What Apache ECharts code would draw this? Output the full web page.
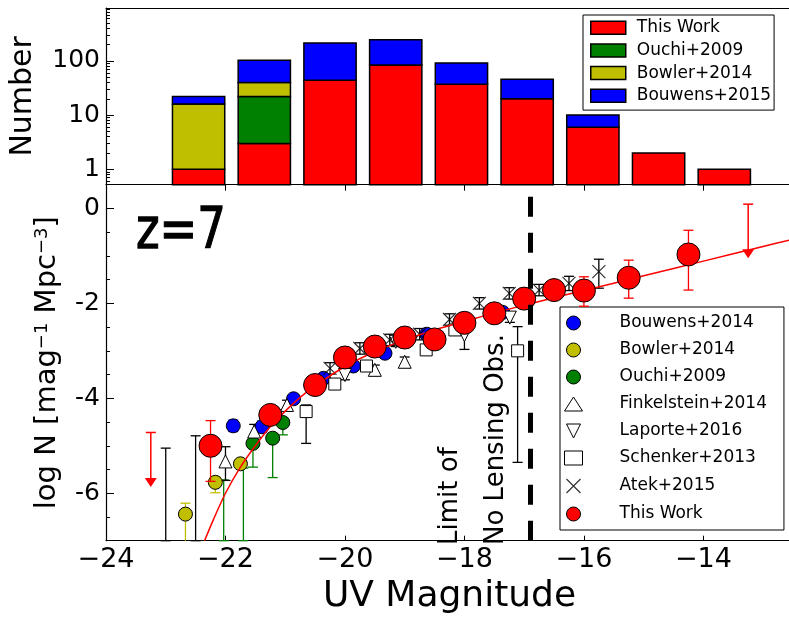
<!DOCTYPE html>
<html><head><meta charset="utf-8">
<script src="https://cdn.jsdelivr.net/npm/echarts@6/dist/echarts.min.js"></script>
<style>html,body{margin:0;padding:0;background:#fff}#c{width:789px;height:618px}</style>
</head><body><div id="c"></div>
<script>
// ---------------- axes ----------------
const xMin = -24, xMax = -12.5;
const xTicks = [-24, -22, -20, -18, -16, -14];
const topYMin = -0.284, topYMax = 2.976;          // log10(Number)
const topYTicks = [0, 1, 2];                        // 1, 10, 100
const botYMin = -7, botYMax = 0.5;
const botYTicks = [0, -2, -4, -6];
const lensingLimit = -16.9;

// ---------------- histogram (counts per bin) ----------------
const histBins     = [-22.45, -21.35, -20.25, -19.15, -18.05, -16.95, -15.85, -14.75, -13.65];
const histThisWork = [1, 3, 44, 84, 37, 20, 6, 2, 1];
const histOuchi    = [0, 19, 0, 0, 0, 0, 0, 0, 0];
const histBowler   = [15, 18, 0, 0, 0, 0, 0, 0, 0];
const histBouwens  = [6, 63, 171, 161, 54, 26, 4, 0, 0];

// ---------------- luminosity function points [M, logN, errDown, errUp] ----------------
const bouwens14 = [[-21.87,-4.58,0.12,0.12],[-21.39,-4.60,0.12,0.12],[-20.86,-4.01,0.08,0.08],[-20.36,-3.58,0.08,0.08],
                   [-19.86,-3.32,0.07,0.07],[-19.33,-3.05,0.07,0.07],[-18.63,-2.65,0.08,0.08],[-17.36,-2.19,0.1,0.1]];
const bowler14  = [[-22.67,-6.44,2.0,0.23],[-22.17,-5.77,0.22,0.12],[-21.75,-5.38,0.07,0.07]];
const ouchi09   = [[-21.54,-4.95,0.50,0.07],[-21.21,-4.84,0.83,0.10],[-21.04,-4.51,0.26,0.10]];
const ouchi09Lim = [[-22.03,-5.72],[-21.70,-5.47]];          // only upper end visible
const finkelstein14 = [[-22.0,-5.33,0.40,0.31],[-21.52,-4.70,0.20,0.15],[-20.97,-4.14,0.12,0.10],
                       [-19.5,-3.40,0.12,0.10],[-19.0,-3.23,0.12,0.10]];
const finkelsteinLim = [[-23.0,-5.05],[-22.5,-4.79]];
const laporte16 = [[-20.0,-3.51,0.10,0.10],[-19.15,-2.81,0.10,0.10],[-18.0,-2.67,0.30,0.10],[-17.24,-2.30,0.10,0.10]];
const schenker13 = [[-20.65,-4.28,0.67,0.14],[-20.17,-3.70,0.10,0.10],[-19.64,-3.32,0.10,0.10],
                    [-18.64,-2.98,0.10,0.10],[-18.16,-2.56,0.10,0.10],[-17.11,-3.00,2.35,0.51]];
const atek15 = [[-20.25,-3.37,0.12,0.12],[-19.75,-2.95,0.12,0.12],[-19.25,-2.77,0.12,0.12],[-18.75,-2.65,0.12,0.12],
                [-18.25,-2.34,0.12,0.12],[-17.75,-2.00,0.12,0.12],[-17.25,-1.79,0.12,0.12],[-16.75,-1.72,0.12,0.12],
                [-16.25,-1.58,0.15,0.15],[-15.75,-1.33,0.35,0.26]];
const thisWork = [[-22.25,-5.00,0.75,0.53],[-21.25,-4.35,0.15,0.15],[-20.5,-3.72,0.12,0.12],[-20.0,-3.14,0.1,0.1],
                  [-19.5,-2.91,0.1,0.1],[-19.0,-2.72,0.1,0.1],[-18.5,-2.76,0.1,0.1],[-18.0,-2.41,0.1,0.1],
                  [-17.5,-2.21,0.1,0.1],[-17.0,-1.90,0.1,0.1],[-16.5,-1.72,0.1,0.1],[-16.0,-1.73,0.33,0.29],
                  [-15.25,-1.46,0.43,0.37],[-14.25,-0.97,0.75,0.51]];
const thisWorkLim = [[-23.25,-4.72,-5.87],[-13.25,0.09,-1.05]];   // [M, top, arrow tip]
const fitLine = [[-22.35,-7.0],[-22.2,-6.55],[-22.0,-6.0],[-21.75,-5.45],[-21.5,-5.0],[-21.25,-4.6],[-21.0,-4.27],
                 [-20.75,-3.98],[-20.5,-3.74],[-20.0,-3.33],[-19.5,-3.02],[-19.0,-2.77],[-18.5,-2.56],[-18.0,-2.38],
                 [-17.5,-2.2],[-17.0,-2.04],[-16.5,-1.88],[-16.0,-1.73],[-15.0,-1.42],[-14.0,-1.11],[-13.0,-0.80],[-12.5,-0.65]];

// ---------------- colours ----------------
const RED = '#ff0000', GREEN = '#008000', OLIVE = '#bfbf00', BLUE = '#0000ff';
const FONT = 'DejaVu Sans';

// ---------------- helpers ----------------
const histStacks = [histThisWork, histOuchi, histBowler, histBouwens];
const histCum = histBins.map((_, i) => { let s = 0; return histStacks.map(a => (s += a[i])); });
function segData(k) {
  const out = [];
  histBins.forEach((x, i) => {
    if (histStacks[k][i] === 0) return;
    const below = k === 0 ? 0 : histCum[i][k - 1];
    out.push([x, below > 0 ? Math.log10(below) : topYMin, Math.log10(histCum[i][k])]);
  });
  return out;
}
const histWidth = 0.875;
function histSeries(name, k, color) {
  return {
    type: 'custom', name, xAxisIndex: 0, yAxisIndex: 0, data: segData(k), encode: {x: 0, y: [1, 2]},
    renderItem: (p, api) => {
      const x = api.value(0), lo = api.value(1), hi = api.value(2);
      const a = api.coord([x - histWidth / 2, hi]), b = api.coord([x + histWidth / 2, lo]);
      return {type: 'rect', shape: {x: a[0], y: a[1], width: b[0] - a[0], height: b[1] - a[1]},
              style: {fill: color, stroke: '#000', lineWidth: 1.5}};
    }
  };
}
const CAP = 5;
function errSeries(data, color, z) {
  return {
    type: 'custom', xAxisIndex: 2, yAxisIndex: 2, data, z, encode: {x: 0, y: 1}, silent: true,
    renderItem: (p, api) => {
      const x = api.value(0), y = api.value(1), lo = api.value(2), hi = api.value(3);
      const yl = Math.max(y - lo, botYMin), clamped = y - lo < botYMin;
      const a = api.coord([x, yl]), b = api.coord([x, y + hi]);
      const st = {stroke: color, lineWidth: 1.3};
      const ch = [{type: 'line', shape: {x1: a[0], y1: a[1], x2: b[0], y2: b[1]}, style: st},
                  {type: 'line', shape: {x1: b[0] - CAP, y1: b[1], x2: b[0] + CAP, y2: b[1]}, style: st}];
      if (!clamped) ch.push({type: 'line', shape: {x1: a[0] - CAP, y1: a[1], x2: a[0] + CAP, y2: a[1]}, style: st});
      return {type: 'group', children: ch};
    }
  };
}
function limSeries(data, color, z) {   // error bar rising from the bottom of the axis
  return errSeries(data.map(d => [d[0], botYMin, 0, d[1] - botYMin]), color, z);
}
function arrowSeries(data, color, z) {
  return {
    type: 'custom', xAxisIndex: 2, yAxisIndex: 2, data, z, encode: {x: 0, y: 1}, silent: true,
    renderItem: (p, api) => {
      const x = api.value(0), top = api.value(1), tip = api.value(2);
      const a = api.coord([x, top]), b = api.coord([x, tip]);
      const st = {stroke: color, lineWidth: 1.5};
      return {type: 'group', children: [
        {type: 'line', shape: {x1: a[0], y1: a[1], x2: b[0], y2: b[1] - 4}, style: st},
        {type: 'line', shape: {x1: a[0] - CAP, y1: a[1], x2: a[0] + CAP, y2: a[1]}, style: st},
        {type: 'polygon', shape: {points: [[b[0] - 6, b[1] - 9], [b[0] + 6, b[1] - 9], [b[0], b[1]]]}, style: {fill: color}}
      ]};
    }
  };
}
function scat(name, data, symbol, size, fill, z, extra) {
  return Object.assign({
    type: 'scatter', name, xAxisIndex: 2, yAxisIndex: 2, data: data.map(d => [d[0], d[1]]), z,
    symbol, symbolSize: size, itemStyle: {color: fill, borderColor: '#000', borderWidth: 1, opacity: 1},
    emphasis: {disabled: true}
  }, extra || {});
}
const TRI_DOWN = 'path://M0,0L10,0L5,10Z';
const XMARK = 'path://M0,0L10,10M10,0L0,10';

const minorTop = [];
[-1, 0, 1, 2].forEach(d => { for (let k = 2; k <= 9; k++) { const v = d + Math.log10(k); if (v > topYMin && v < topYMax) minorTop.push(v); } });
const minorBot = [];
for (let v = botYMin; v <= botYMax; v += 0.5) if (!botYTicks.includes(v)) minorBot.push(v);

const axisLine = {show: true, onZero: false, lineStyle: {color: '#000', width: 1.2}};
const chart = echarts.init(document.getElementById('c'));
chart.setOption({
  animation: false,
  backgroundColor: '#fff',
  textStyle: {fontFamily: FONT},
  grid: [
    {left: 106, top: 8, right: -4, height: 176.7, outerBoundsMode: 'none', containLabel: false},
    {left: 106, top: 184.7, right: -4, bottom: 77.3, outerBoundsMode: 'none', containLabel: false}
  ],
  xAxis: [
    {gridIndex: 0, type: 'value', min: xMin, max: xMax, position: 'bottom', axisLine,
     axisTick: {inside: false, length: 6, customValues: xTicks, lineStyle: {color: '#000'}},
     axisLabel: {show: false}, splitLine: {show: false}},
    {gridIndex: 0, type: 'value', min: xMin, max: xMax, position: 'top', axisLine,
     axisTick: {show: false}, axisLabel: {show: false}, splitLine: {show: false}},
    {gridIndex: 1, type: 'value', min: xMin, max: xMax, position: 'bottom', axisLine,
     name: 'UV Magnitude', nameLocation: 'middle', nameGap: 34,
     nameTextStyle: {fontSize: 36, color: '#000', fontFamily: FONT},
     axisTick: {inside: true, length: 5, customValues: xTicks, lineStyle: {color: '#000'}},
     axisLabel: {customValues: xTicks, fontSize: 27, color: '#000', margin: 6, fontFamily: FONT,
                 formatter: v => String(v).replace('-', '\u2212')},
     splitLine: {show: false}}
  ],
  yAxis: [
    {gridIndex: 0, type: 'value', min: topYMin, max: topYMax, position: 'left', axisLine,
     name: 'Number', nameLocation: 'middle', nameGap: 68,
     nameTextStyle: {fontSize: 30, color: '#000', fontFamily: FONT},
     axisTick: {inside: true, length: 8, customValues: topYTicks, lineStyle: {color: '#000'}},
     axisLabel: {customValues: topYTicks, fontSize: 25, color: '#000', margin: 6, fontFamily: FONT,
                 formatter: v => String(Math.round(Math.pow(10, v)))},
     splitLine: {show: false}},
    {gridIndex: 0, type: 'value', min: topYMin, max: topYMax, position: 'left', axisLine: {show: false},
     axisTick: {inside: true, length: 4, customValues: minorTop, lineStyle: {color: '#000'}},
     axisLabel: {show: false}, splitLine: {show: false}},
    {gridIndex: 1, type: 'value', min: botYMin, max: botYMax, position: 'left', axisLine,
     name: 'log N [mag{s|\u22121} Mpc{s|\u22123}]', nameLocation: 'middle', nameGap: 44,
     nameTextStyle: {fontSize: 29, color: '#000', fontFamily: FONT,
                     rich: {s: {fontSize: 18, color: '#000', fontFamily: FONT, verticalAlign: 'top', padding: [0, 0, 10, 0]}}},
     axisTick: {inside: true, length: 8, customValues: botYTicks, lineStyle: {color: '#000'}},
     axisLabel: {customValues: botYTicks, fontSize: 25, color: '#000', margin: 6, fontFamily: FONT,
                 formatter: v => String(v)},
     splitLine: {show: false}},
    {gridIndex: 1, type: 'value', min: botYMin, max: botYMax, position: 'left', axisLine: {show: false},
     axisTick: {inside: true, length: 4, customValues: minorBot, lineStyle: {color: '#000'}},
     axisLabel: {show: false}, splitLine: {show: false}}
  ],
  legend: [
    {orient: 'vertical', left: 583, top: 15, selectedMode: false,
     padding: [4.2, 3, 5.8, 7], itemWidth: 35, itemHeight: 13, itemGap: 5.7,
     backgroundColor: '#fff', borderColor: '#000', borderWidth: 1, borderRadius: 0,
     textStyle: {fontSize: 17, color: '#000', fontFamily: FONT, padding: [0, 0, 0, 6]},
     data: [
       {name: 'This Work', icon: 'rect', itemStyle: {color: RED, borderColor: '#000', borderWidth: 1.5}},
       {name: 'Ouchi+2009', icon: 'rect', itemStyle: {color: GREEN, borderColor: '#000', borderWidth: 1.5}},
       {name: 'Bowler+2014', icon: 'rect', itemStyle: {color: OLIVE, borderColor: '#000', borderWidth: 1.5}},
       {name: 'Bouwens+2015', icon: 'rect', itemStyle: {color: BLUE, borderColor: '#000', borderWidth: 1.5}}
     ]},
    {orient: 'vertical', left: 560, top: 307, selectedMode: false,
     padding: [7.5, 17, 7.5, 4], itemWidth: 18, itemHeight: 14, itemGap: 10,
     backgroundColor: '#fff', borderColor: '#000', borderWidth: 1, borderRadius: 0,
     textStyle: {fontSize: 17, color: '#000', fontFamily: FONT, padding: [0, 0, 0, 32]},
     data: [
       {name: 'Bouwens+2014', icon: 'circle', itemStyle: {color: BLUE, borderColor: '#000', borderWidth: 1}},
       {name: 'Bowler+2014', icon: 'circle', itemStyle: {color: OLIVE, borderColor: '#000', borderWidth: 1}},
       {name: 'Ouchi+2009', icon: 'circle', itemStyle: {color: GREEN, borderColor: '#000', borderWidth: 1}},
       {name: 'Finkelstein+2014', icon: 'triangle', itemStyle: {color: '#fff', borderColor: '#000', borderWidth: 1}},
       {name: 'Laporte+2016', icon: TRI_DOWN, itemStyle: {color: '#fff', borderColor: '#000', borderWidth: 1}},
       {name: 'Schenker+2013', icon: 'rect', itemStyle: {color: '#fff', borderColor: '#000', borderWidth: 1}},
       {name: 'Atek+2015', icon: XMARK, itemStyle: {color: 'none', borderColor: '#000', borderWidth: 1.2}},
       {name: 'This Work', icon: 'circle', itemStyle: {color: RED, borderColor: '#000', borderWidth: 1}}
     ]}
  ],
  graphic: [
    {type: 'text', x: 136, y: 205, scaleY: 1.25, z: 20,
     style: {text: 'z=7', font: '45px "DejaVu Sans"', fill: '#000', verticalAlign: 'top', stroke: '#000', lineWidth: 1}},
    {type: 'text', x: 519, y: 545, rotation: Math.PI / 2, z: 20,
     style: {text: 'Limit of\nNo Lensing Obs.', font: '26px "DejaVu Sans"', fill: '#000', align: 'left',
             verticalAlign: 'bottom', lineHeight: 46}}
  ],
  series: [
    histSeries('This Work', 0, RED),
    histSeries('Ouchi+2009', 1, GREEN),
    histSeries('Bowler+2014', 2, OLIVE),
    histSeries('Bouwens+2015', 3, BLUE),

    errSeries(bouwens14, BLUE, 2), scat('Bouwens+2014', bouwens14, 'circle', 14, BLUE, 2),
    errSeries(bowler14, OLIVE, 2), scat('Bowler+2014', bowler14, 'circle', 14, OLIVE, 2),
    limSeries(ouchi09Lim, GREEN, 2),
    errSeries(ouchi09, GREEN, 2), scat('Ouchi+2009', ouchi09, 'circle', 14, GREEN, 2),
    limSeries(finkelsteinLim, '#000', 2),
    errSeries(finkelstein14, '#000', 2), scat('Finkelstein+2014', finkelstein14, 'triangle', 13, '#fff', 2),
    errSeries(laporte16, '#000', 2), scat('Laporte+2016', laporte16, TRI_DOWN, 13, '#fff', 2),
    errSeries(schenker13, '#000', 2), scat('Schenker+2013', schenker13, 'rect', 12, '#fff', 2),
    errSeries(atek15, '#000', 2), scat('Atek+2015', atek15, XMARK, 13, 'none', 2,
      {itemStyle: {color: 'none', borderColor: '#000', borderWidth: 1.2}}),
    {type: 'line', xAxisIndex: 2, yAxisIndex: 2, data: fitLine, showSymbol: false, smooth: 0.3, z: 3,
     lineStyle: {color: RED, width: 1.5}, silent: true},
    errSeries(thisWork, RED, 4), arrowSeries(thisWorkLim, RED, 4),
    scat('This Work', thisWork, 'circle', 23, RED, 4),
    {type: 'line', xAxisIndex: 2, yAxisIndex: 2, data: [], z: 10, silent: true,
     markLine: {silent: true, symbol: 'none', label: {show: false},
                lineStyle: {color: '#000', width: 5, type: [20, 16]}, data: [{xAxis: lensingLimit}]}}
  ]
});
</script></body></html>
